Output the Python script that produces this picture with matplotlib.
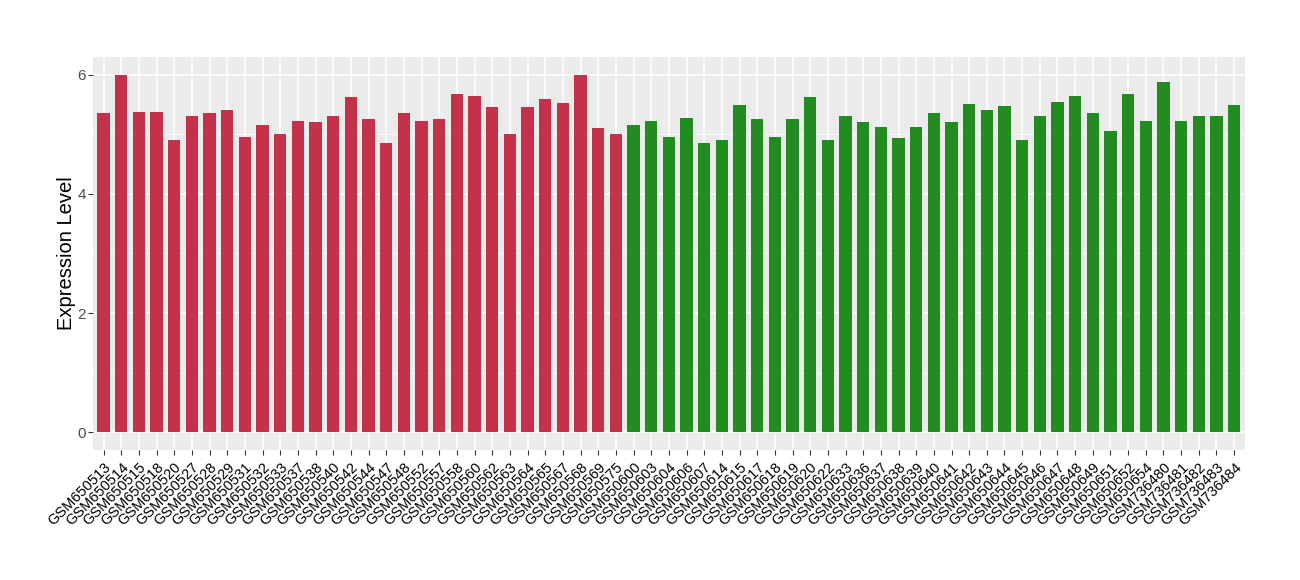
import matplotlib
matplotlib.use("Agg")
import matplotlib.pyplot as plt
import numpy as np

plt.rcParams['font.family'] = ['Liberation Sans', 'DejaVu Sans']

# samples and expression values
red_samples = ['GSM650513', 'GSM650514', 'GSM650515', 'GSM650518', 'GSM650520', 'GSM650527',
               'GSM650528', 'GSM650529', 'GSM650531', 'GSM650532', 'GSM650533', 'GSM650537',
               'GSM650538', 'GSM650540', 'GSM650542', 'GSM650544', 'GSM650547', 'GSM650548',
               'GSM650552', 'GSM650557', 'GSM650558', 'GSM650560', 'GSM650562', 'GSM650563',
               'GSM650564', 'GSM650565', 'GSM650567', 'GSM650568', 'GSM650569', 'GSM650575']
red_values = [5.36, 6.00, 5.38, 5.38, 4.90, 5.30, 5.35, 5.41, 4.95, 5.15,
              5.00, 5.23, 5.20, 5.30, 5.63, 5.25, 4.86, 5.36, 5.23, 5.26,
              5.68, 5.65, 5.46, 5.00, 5.45, 5.60, 5.53, 6.00, 5.11, 5.00]

green_samples = ['GSM650600', 'GSM650603', 'GSM650604', 'GSM650606', 'GSM650607', 'GSM650614',
                 'GSM650615', 'GSM650617', 'GSM650618', 'GSM650619', 'GSM650620', 'GSM650622',
                 'GSM650633', 'GSM650636', 'GSM650637', 'GSM650638', 'GSM650639', 'GSM650640',
                 'GSM650641', 'GSM650642', 'GSM650643', 'GSM650644', 'GSM650645', 'GSM650646',
                 'GSM650647', 'GSM650648', 'GSM650649', 'GSM650651', 'GSM650652', 'GSM650654',
                 'GSM736480', 'GSM736481', 'GSM736482', 'GSM736483', 'GSM736484']
green_values = [5.16, 5.23, 4.95, 5.28, 4.86, 4.90, 5.50, 5.25, 4.95, 5.26,
                5.63, 4.90, 5.31, 5.20, 5.13, 4.93, 5.13, 5.35, 5.20, 5.51,
                5.40, 5.48, 4.91, 5.31, 5.55, 5.65, 5.36, 5.06, 5.68, 5.23,
                5.88, 5.23, 5.30, 5.31, 5.50]

red_color = '#C3314A'
green_color = '#228B22'

samples = red_samples + green_samples
values = red_values + green_values
colors = [red_color] * len(red_samples) + [green_color] * len(green_samples)
x = np.arange(len(samples))

fig = plt.figure(figsize=(13, 5.8), dpi=100)
ax = fig.add_axes([0.0715, 0.224, 0.886, 0.678])
ax.set_facecolor('#EBEBEB')

ax.bar(x, values, width=0.7, color=colors, zorder=3)

ax.set_xlim(-0.6, len(samples) - 0.4)
ax.set_ylim(-0.3, 6.3)
ax.set_yticks([0, 2, 4, 6])
ax.set_yticks([1, 3, 5], minor=True)
ax.set_xticks(x)
ax.set_xticklabels(samples, rotation=45, ha='right', rotation_mode='anchor', fontsize=10.5)

ax.grid(which='major', color='white', linewidth=1.1, zorder=0)
ax.grid(which='minor', axis='y', color='white', linewidth=0.5, zorder=0)
for s in ax.spines.values():
    s.set_visible(False)
ax.tick_params(axis='both', which='major', length=3.5, color='#333333', labelcolor='#4D4D4D', labelsize=11)
ax.tick_params(axis='y', which='major', pad=1.5)
ax.tick_params(axis='y', which='minor', length=0)
ax.tick_params(axis='x', labelcolor='black', labelsize=10.5)

ax.set_ylabel('Expression Level', fontsize=14.5, labelpad=1)

fig.savefig('out.png', dpi=100)
